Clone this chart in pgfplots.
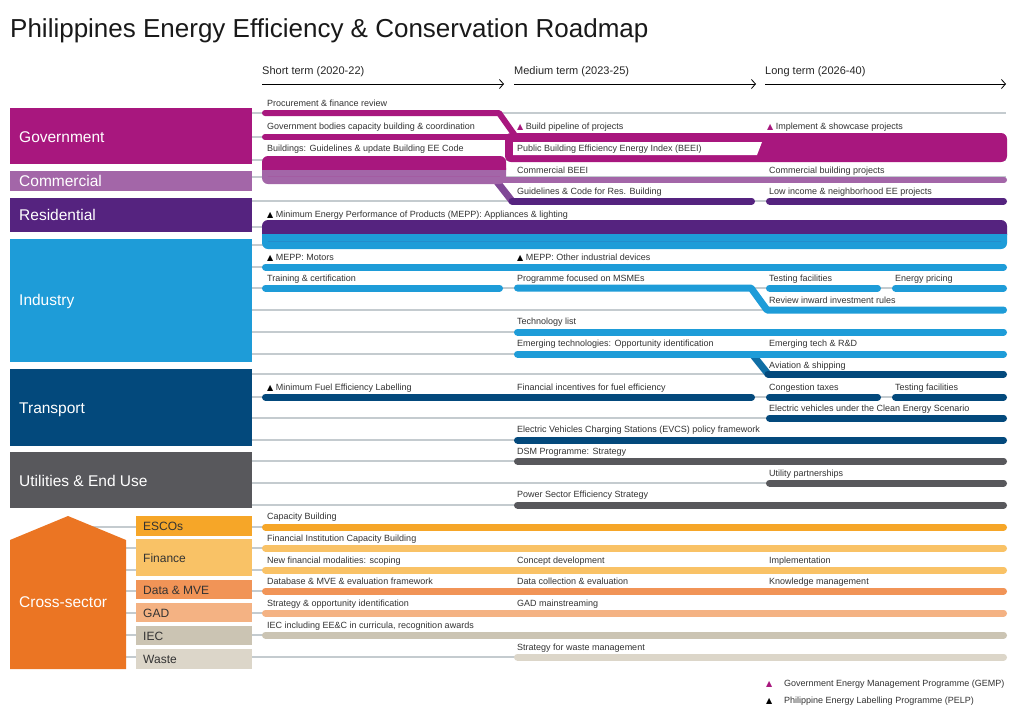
\documentclass[border=0pt]{standalone}
\usepackage{pgfplots}
\pgfplotsset{compat=1.18}
\usetikzlibrary{arrows.meta}
\usepackage{fontspec}
\setmainfont{Liberation Sans}
\newfontfamily\sym{DejaVu Sans}
\definecolor{gov}{HTML}{A8177E}
\definecolor{com}{HTML}{A366A8}
\definecolor{res}{HTML}{55237F}
\definecolor{ind}{HTML}{1E9CD8}
\definecolor{tra}{HTML}{03497C}
\definecolor{uti}{HTML}{58585C}
\definecolor{cross}{HTML}{EB7523}
\definecolor{esco}{HTML}{F6A628}
\definecolor{fin}{HTML}{F9C266}
\definecolor{dat}{HTML}{F19457}
\definecolor{gad}{HTML}{F4B283}
\definecolor{iec}{HTML}{CBC4B3}
\definecolor{waste}{HTML}{DCD6C9}
\definecolor{gridc}{HTML}{C4CBCF}
\definecolor{labc}{HTML}{333333}
\newcommand\tri[1]{{\color{#1}\sym\fontsize{8}{8}\selectfont ▲}}
\tikzset{
  rb/.style={line width=7pt,line cap=round},
  gl/.style={draw=gridc,line width=1.1pt},
  lab/.style={anchor=base west,inner sep=0pt,font=\fontsize{9}{10}\selectfont,text=labc},
  cat/.style={anchor=base west,inner sep=0pt,font=\fontsize{15.5}{17}\selectfont,text=white},
  sub/.style={anchor=base west,inner sep=0pt,font=\fontsize{12}{14}\selectfont,text=labc},
  hdr/.style={anchor=base west,inner sep=0pt,font=\fontsize{11}{13}\selectfont,text=black!85},
}
\begin{document}
\begin{tikzpicture}
\begin{axis}[width=1024pt,height=718pt,scale only axis,
  xmin=0,xmax=1024,ymin=0,ymax=718,y dir=reverse,hide axis,clip=false]
% ---- page background (fixes the picture's extent)
\addplot[fill=white,draw=none] coordinates {(0,0) (1024,0) (1024,718) (0,718)};
% ---- thin gray guide lines
\addplot[gl] coordinates {(240,113) (1006,113)};
\addplot[gl] coordinates {(240,137) (1006,137)};
\addplot[gl] coordinates {(240,160) (1006,160)};
\addplot[gl] coordinates {(240,177) (1006,177)};
\addplot[gl] coordinates {(240,201) (1006,201)};
\addplot[gl] coordinates {(240,227) (1006,227)};
\addplot[gl] coordinates {(240,245) (1006,245)};
\addplot[gl] coordinates {(240,267) (1006,267)};
\addplot[gl] coordinates {(240,288) (1006,288)};
\addplot[gl] coordinates {(240,310) (1006,310)};
\addplot[gl] coordinates {(240,332) (1006,332)};
\addplot[gl] coordinates {(240,354) (1006,354)};
\addplot[gl] coordinates {(240,374) (1006,374)};
\addplot[gl] coordinates {(240,397) (1006,397)};
\addplot[gl] coordinates {(240,418) (1006,418)};
\addplot[gl] coordinates {(240,440) (1006,440)};
\addplot[gl] coordinates {(240,461) (1006,461)};
\addplot[gl] coordinates {(240,483) (1006,483)};
\addplot[gl] coordinates {(240,505) (1006,505)};
\addplot[gl] coordinates {(60,527) (1006,527)};
\addplot[gl] coordinates {(60,548) (1006,548)};
\addplot[gl] coordinates {(60,570) (1006,570)};
\addplot[gl] coordinates {(60,591) (1006,591)};
\addplot[gl] coordinates {(60,613) (1006,613)};
\addplot[gl] coordinates {(60,635) (1006,635)};
\addplot[gl] coordinates {(60,657) (1006,657)};
% ---- time arrows
\addplot[draw=black,line width=0.8pt,-{Straight Barb[length=4pt,width=9pt]}] coordinates {(262,84) (504,84)};
\addplot[draw=black,line width=0.8pt,-{Straight Barb[length=4pt,width=9pt]}] coordinates {(514,84) (756,84)};
\addplot[draw=black,line width=0.8pt,-{Straight Barb[length=4pt,width=9pt]}] coordinates {(765,84) (1006,84)};
% ---- Government / Commercial / Residential
\addplot[draw=gov,line width=6pt,line cap=round,line join=round] coordinates {(265,113) (499,113) (516,137)};
\addplot[draw=gov,line width=6pt,line cap=round] coordinates {(265,137) (515,137)};
\addplot[draw=com!55!res,line width=7pt] coordinates {(494,178) (512,201)};
\addplot[draw=res,rb] coordinates {(512,201) (751.5,201)};
\addplot[draw=res,rb] coordinates {(769.5,201) (1003.5,201)};
\addplot[fill=gov,draw=none,rounded corners=6pt] coordinates {(700,133) (1007,133) (1007,162) (505,162) (505,133) (700,133)};
\addplot[fill=white,draw=none] coordinates {(513,142) (762,142) (757,155) (513,155)};
\addplot[fill=com,draw=none,rounded corners=6pt] coordinates {(400,162) (506,162) (506,184) (262,184) (262,162) (400,162)};
\addplot[fill=gov,draw=none,rounded corners=6pt] coordinates {(400,156) (506,156) (506,176) (262,176) (262,156) (400,156)};
\addplot[fill=com,draw=none] coordinates {(262,170) (506,170) (506,176) (262,176)};
\addplot[draw=com,line width=6pt,line cap=round] coordinates {(500,180) (1004,180)};
% residential / industry band
\addplot[fill=ind,draw=none,rounded corners=6pt] coordinates {(600,228) (1007,228) (1007,249) (262,249) (262,228) (600,228)};
\addplot[fill=res,draw=none,rounded corners=6pt] coordinates {(600,220) (1007,220) (1007,241) (262,241) (262,220) (600,220)};
\addplot[fill=ind,draw=none] coordinates {(262,234) (1007,234) (1007,241) (262,241)};
% ---- Industry
\addplot[draw=ind,rb] coordinates {(265.5,267) (1003.5,267)};
\addplot[draw=ind,rb] coordinates {(265.5,288) (499.5,288)};
\addplot[draw=ind,rb,line join=round] coordinates {(517.5,288) (751,288) (767,310) (1003.5,310)};
\addplot[draw=ind,rb] coordinates {(769.5,288) (877.5,288)};
\addplot[draw=ind,rb] coordinates {(895.5,288) (1003.5,288)};
\addplot[draw=ind,rb] coordinates {(517.5,332) (1003.5,332)};
\addplot[draw=ind!45!tra,line width=7pt] coordinates {(752,354) (768,374)};
\addplot[draw=tra,rb] coordinates {(768,374) (1003.5,374)};
\addplot[draw=ind,rb] coordinates {(517.5,354) (1003.5,354)};
% ---- Transport
\addplot[draw=tra,rb] coordinates {(265.5,397) (751.5,397)};
\addplot[draw=tra,rb] coordinates {(769.5,397) (877.5,397)};
\addplot[draw=tra,rb] coordinates {(895.5,397) (1003.5,397)};
\addplot[draw=tra,rb] coordinates {(769.5,418) (1003.5,418)};
\addplot[draw=tra,rb] coordinates {(517.5,440) (1003.5,440)};
% ---- Utilities
\addplot[draw=uti,rb] coordinates {(517.5,461) (1003.5,461)};
\addplot[draw=uti,rb] coordinates {(769.5,483) (1003.5,483)};
\addplot[draw=uti,rb] coordinates {(517.5,505) (1003.5,505)};
% ---- Cross-sector
\addplot[draw=esco,rb] coordinates {(265.5,527) (1003.5,527)};
\addplot[draw=fin,rb] coordinates {(265.5,548) (1003.5,548)};
\addplot[draw=fin,rb] coordinates {(265.5,570) (1003.5,570)};
\addplot[draw=dat,rb] coordinates {(265.5,591) (1003.5,591)};
\addplot[draw=gad,rb] coordinates {(265.5,613) (1003.5,613)};
\addplot[draw=iec,rb] coordinates {(265.5,635) (1003.5,635)};
\addplot[draw=waste,rb] coordinates {(517.5,657) (1003.5,657)};
% ---- category boxes
\addplot[fill=gov,draw=none] coordinates {(10,108) (252,108) (252,164) (10,164)};
\addplot[fill=com,draw=none] coordinates {(10,171) (252,171) (252,191) (10,191)};
\addplot[fill=res,draw=none] coordinates {(10,198) (252,198) (252,232) (10,232)};
\addplot[fill=ind,draw=none] coordinates {(10,239) (252,239) (252,362) (10,362)};
\addplot[fill=tra,draw=none] coordinates {(10,369) (252,369) (252,446) (10,446)};
\addplot[fill=uti,draw=none] coordinates {(10,452) (252,452) (252,508) (10,508)};
\addplot[fill=cross,draw=none] coordinates {(10,540) (68,516) (126,540) (126,669) (10,669)};
\addplot[fill=esco,draw=none] coordinates {(136,516) (252,516) (252,536) (136,536)};
\addplot[fill=fin,draw=none] coordinates {(136,539) (252,539) (252,576) (136,576)};
\addplot[fill=dat,draw=none] coordinates {(136,580) (252,580) (252,599) (136,599)};
\addplot[fill=gad,draw=none] coordinates {(136,603) (252,603) (252,622) (136,622)};
\addplot[fill=iec,draw=none] coordinates {(136,626) (252,626) (252,645) (136,645)};
\addplot[fill=waste,draw=none] coordinates {(136,649) (252,649) (252,669) (136,669)};
% ---- texts
\node[anchor=base west,inner sep=0pt,font=\fontsize{26}{30}\selectfont,text=black!90] at (axis cs:10,37) {Philippines Energy Efficiency \& Conservation Roadmap};
\node[hdr] at (axis cs:262,74) {Short term (2020-22)};
\node[hdr] at (axis cs:514,74) {Medium term (2023-25)};
\node[hdr] at (axis cs:765,74) {Long term (2026-40)};
\node[cat] at (axis cs:19,142.5) {Government};
\node[cat] at (axis cs:19,186.5) {Commercial};
\node[cat] at (axis cs:19,220.5) {Residential};
\node[cat] at (axis cs:19,305.5) {Industry};
\node[cat] at (axis cs:19,413.5) {Transport};
\node[cat] at (axis cs:19,486.5) {Utilities \& End Use};
\node[cat] at (axis cs:19,607.5) {Cross-sector};
\node[sub] at (axis cs:143,530.5) {ESCOs};
\node[sub] at (axis cs:143,562.5) {Finance};
\node[sub] at (axis cs:143,594.5) {Data \& MVE};
\node[sub] at (axis cs:143,617) {GAD};
\node[sub] at (axis cs:143,640) {IEC};
\node[sub] at (axis cs:143,663.5) {Waste};
% government rows
\node[lab] at (axis cs:267,106.5) {Procurement \& finance review};
\node[lab] at (axis cs:267,129.5) {Government bodies capacity building \& coordination};
\node[lab] at (axis cs:267,151.5) {Buildings: Guidelines \& update Building EE Code};
\node[lab] at (axis cs:517,129.5) {\tri{gov} Build pipeline of projects};
\node[lab] at (axis cs:767,129.5) {\tri{gov} Implement \& showcase projects};
\node[lab] at (axis cs:517,151.5) {Public Building Efficiency Energy Index (BEEI)};
\node[lab] at (axis cs:517,173.5) {Commercial BEEI};
\node[lab] at (axis cs:769,173.5) {Commercial building projects};
\node[lab] at (axis cs:517,194.5) {Guidelines \& Code for Res. Building};
\node[lab] at (axis cs:769,194.5) {Low income \& neighborhood EE projects};
\node[lab] at (axis cs:267,217.5) {\tri{black} Minimum Energy Performance of Products (MEPP): Appliances \& lighting};
% industry
\node[lab] at (axis cs:267,260.5) {\tri{black} MEPP: Motors};
\node[lab] at (axis cs:517,260.5) {\tri{black} MEPP: Other industrial devices};
\node[lab] at (axis cs:267,281.5) {Training \& certification};
\node[lab] at (axis cs:517,281.5) {Programme focused on MSMEs};
\node[lab] at (axis cs:769,281.5) {Testing facilities};
\node[lab] at (axis cs:895,281.5) {Energy pricing};
\node[lab] at (axis cs:769,303) {Review inward investment rules};
\node[lab] at (axis cs:517,324.5) {Technology list};
\node[lab] at (axis cs:517,346.5) {Emerging technologies: Opportunity identification};
\node[lab] at (axis cs:769,346.5) {Emerging tech \& R\&D};
\node[lab] at (axis cs:769,368) {Aviation \& shipping};
% transport
\node[lab] at (axis cs:267,390) {\tri{black} Minimum Fuel Efficiency Labelling};
\node[lab] at (axis cs:517,390) {Financial incentives for fuel efficiency};
\node[lab] at (axis cs:769,390) {Congestion taxes};
\node[lab] at (axis cs:895,390) {Testing facilities};
\node[lab] at (axis cs:769,411.5) {Electric vehicles under the Clean Energy Scenario};
\node[lab] at (axis cs:517,432.5) {Electric Vehicles Charging Stations (EVCS) policy framework};
% utilities
\node[lab] at (axis cs:517,454) {DSM Programme: Strategy};
\node[lab] at (axis cs:769,476) {Utility partnerships};
\node[lab] at (axis cs:517,497.5) {Power Sector Efficiency Strategy};
% cross-sector
\node[lab] at (axis cs:267,519.5) {Capacity Building};
\node[lab] at (axis cs:267,541) {Financial Institution Capacity Building};
\node[lab] at (axis cs:267,563) {New financial modalities: scoping};
\node[lab] at (axis cs:517,563) {Concept development};
\node[lab] at (axis cs:769,563) {Implementation};
\node[lab] at (axis cs:267,584) {Database \& MVE \& evaluation framework};
\node[lab] at (axis cs:517,584) {Data collection \& evaluation};
\node[lab] at (axis cs:769,584) {Knowledge management};
\node[lab] at (axis cs:267,606) {Strategy \& opportunity identification};
\node[lab] at (axis cs:517,606) {GAD mainstreaming};
\node[lab] at (axis cs:267,628) {IEC including EE\&C in curricula, recognition awards};
\node[lab] at (axis cs:517,650) {Strategy for waste management};
% legend
\node[lab] at (axis cs:766,686.5) {\tri{gov}};
\node[lab] at (axis cs:784,686.5) {Government Energy Management Programme (GEMP)};
\node[lab] at (axis cs:766,703.5) {\tri{black}};
\node[lab] at (axis cs:784,703.5) {Philippine Energy Labelling Programme (PELP)};
\end{axis}
\end{tikzpicture}
\end{document}
